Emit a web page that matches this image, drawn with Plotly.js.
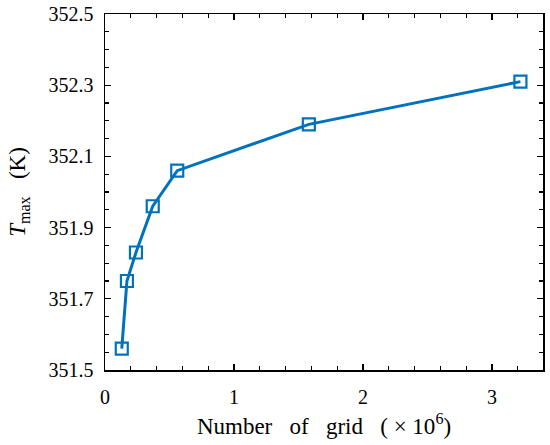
<!DOCTYPE html>
<html>
<head>
<meta charset="utf-8">
<script src="https://cdn.plot.ly/plotly-3.0.1.min.js"></script>
<style>html,body{margin:0;padding:0;background:#fff;}#chart{width:550px;height:445px;}</style>
</head>
<body>
<div id="chart"></div>
<script>
const gridMillions = [0.13, 0.17, 0.24, 0.37, 0.56, 1.58, 3.22];
const tMax = [351.56, 351.75, 351.83, 351.96, 352.06, 352.19, 352.31];
const yTickVals = [351.5, 351.7, 351.9, 352.1, 352.3, 352.5];
const yTickText = ['351.5', '351.7', '351.9', '352.1', '352.3', '352.5'];
const xTickVals = [0, 1, 2, 3];

const fontFam = 'Liberation Serif, serif';
const blue = '#0072BD';

Plotly.newPlot('chart', [{
  x: gridMillions,
  y: tMax,
  type: 'scatter',
  mode: 'lines+markers',
  line: {color: blue, width: 3},
  marker: {symbol: 'square-open', size: 12, color: blue, line: {width: 2.2, color: blue}},
  showlegend: false
}], {
  width: 550, height: 445,
  margin: {l: 105, r: 7, t: 14, b: 75},
  paper_bgcolor: '#fff', plot_bgcolor: '#fff',
  font: {family: fontFam, size: 20, color: '#000'},
  xaxis: {
    range: [0, 3.395],
    tickvals: xTickVals,
    ticks: 'inside', ticklen: 6, tickwidth: 1.2, tickcolor: '#000',
    ticklabelstandoff: 8,
    minor: {dtick: 0.2, tick0: 0, ticks: 'inside', ticklen: 4, tickwidth: 1.2, tickcolor: '#000'},
    showline: true, linecolor: '#000', linewidth: 1.5, mirror: 'ticks',
    showgrid: false, zeroline: false,
    tickfont: {family: fontFam, size: 20, color: '#000'},
    title: {text: 'Number&nbsp;&nbsp; of&nbsp;&nbsp; grid&nbsp;&nbsp; (&nbsp;×&nbsp;10<sup>6</sup>)', font: {family: fontFam, size: 23, color: '#000'}, standoff: 11}
  },
  yaxis: {
    range: [351.5, 352.5],
    tickvals: yTickVals, ticktext: yTickText,
    ticks: 'inside', ticklen: 6, tickwidth: 1.2, tickcolor: '#000',
    ticklabelstandoff: 6,
    minor: {dtick: 0.05, tick0: 351.5, ticks: 'inside', ticklen: 4, tickwidth: 1.2, tickcolor: '#000'},
    showline: true, linecolor: '#000', linewidth: 1.5, mirror: 'ticks',
    showgrid: false, zeroline: false,
    tickfont: {family: fontFam, size: 20, color: '#000'},
    title: {text: '<i>T</i><sub>max</sub>&nbsp;&nbsp; (K)', font: {family: fontFam, size: 23, color: '#000'}, standoff: 16}
  }
}, {displayModeBar: false, staticPlot: true});
</script>
</body>
</html>
